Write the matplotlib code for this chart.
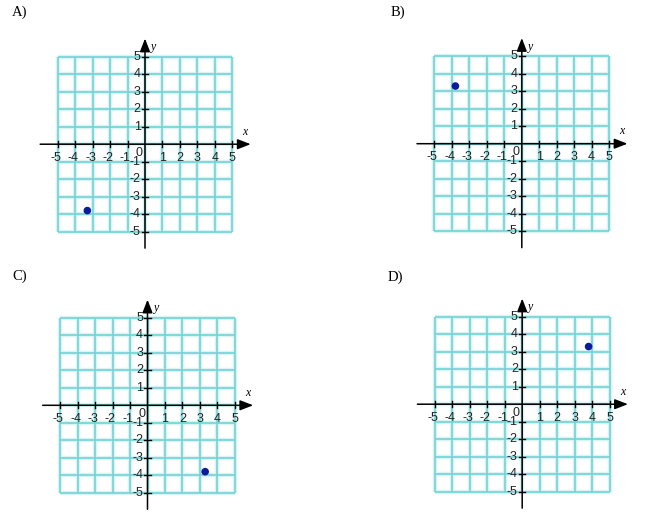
import numpy as np
import matplotlib.pyplot as plt

# answer choices: one plotted point per panel
labels = ['A)', 'B)', 'C)', 'D)']
point_x = [-3.3, -3.8, 3.3, 3.8]
point_y = [-3.8, 3.3, -3.8, 3.3]
ticks = [-5, -4, -3, -2, -1, 1, 2, 3, 4, 5]
grid_vals = np.arange(-5, 6)

W, H = 650, 522
unit = 17.47
half = 6.5
# panel origins in pixels (layout), and label anchors
centers = [(145.0, 144.2), (521.8, 143.7), (147.5, 405.3), (522.2, 404.2)]
label_pos = [(12, 12), (391, 12), (12, 276), (388, 277)]

grid_col = '#74d3d4'
halo_col = '#daf4f4'
dot_col = '#0c1a9c'
txt_col = '#222222'

fig = plt.figure(figsize=(W / 100, H / 100), dpi=100)

for lab, px, py, (cx, cy), (lx, ly) in zip(labels, point_x, point_y, centers, label_pos):
    size = 2 * half * unit
    ax = fig.add_axes([(cx - half * unit) / W, (H - cy - half * unit) / H, size / W, size / H])
    ax.set_xlim(-half, half)
    ax.set_ylim(-half, half)
    ax.axis('off')

    # grid with a soft halo
    for g in grid_vals:
        for col, lw, z in [(halo_col, 3.2, 1), (grid_col, 1.2, 2)]:
            ax.plot([g, g], [-5, 5], color=col, lw=lw, zorder=z, solid_capstyle='butt')
            ax.plot([-5, 5], [g, g], color=col, lw=lw, zorder=z, solid_capstyle='butt')

    # axes with arrows
    arrow = dict(arrowstyle='-|>,head_length=0.44,head_width=0.17', color='black',
                 lw=1.1, mutation_scale=18, shrinkA=0, shrinkB=0)
    ax.annotate('', xy=(6.05, 0), xytext=(-6.0, 0), arrowprops=arrow, zorder=4)
    ax.annotate('', xy=(0, 6.05), xytext=(0, -5.95), arrowprops=arrow, zorder=4)

    for t in ticks:
        ax.plot([t, t], [-0.18, 0.18], color='black', lw=1.0, zorder=4)
        ax.plot([-0.18, 0.18], [t, t], color='black', lw=1.0, zorder=4)
        ax.text(t - (0.12 if t < 0 else 0), -0.78, str(t), ha='center', va='center',
                fontsize=9, family='Liberation Sans', color=txt_col, zorder=5)
        ax.text(-0.25, t, str(t), ha='right', va='center',
                fontsize=9, family='Liberation Sans', color=txt_col, zorder=5)
    ax.text(-0.33, -0.5, '0', ha='center', va='center', fontsize=9,
            family='Liberation Sans', color=txt_col, zorder=5)

    ax.text(5.73, 0.72, 'x', ha='center', va='center', fontsize=8.5,
            family='Liberation Serif', style='italic')
    ax.text(0.5, 5.55, 'y', ha='center', va='center', fontsize=8.5,
            family='Liberation Serif', style='italic')

    ax.scatter([px], [py], s=30, color=dot_col, zorder=6, edgecolors='none')

    fig.text(lx / W, 1 - ly / H, lab, ha='left', va='center', fontsize=10.5,
             family='Liberation Serif')

fig.savefig('out.png', dpi=100, facecolor='white')
